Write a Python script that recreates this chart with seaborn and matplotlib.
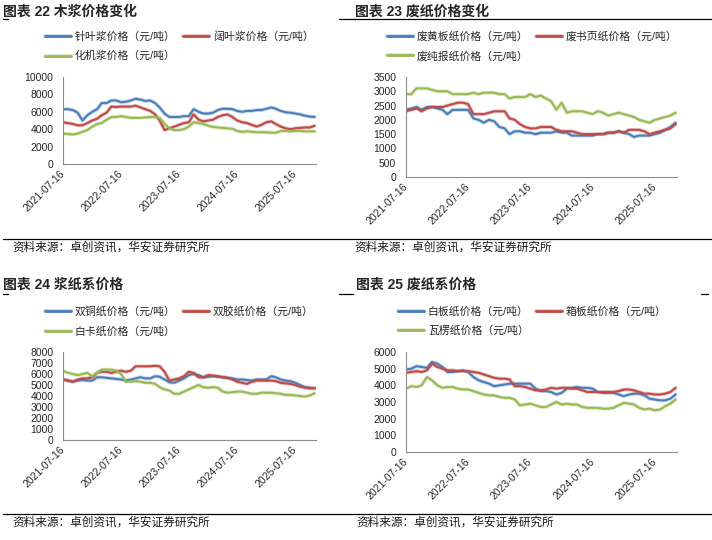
import numpy as np
import pandas as pd
import matplotlib
matplotlib.use("Agg")
import matplotlib.pyplot as plt
import matplotlib.patheffects as pe
import seaborn as sns

# ── data (monthly readings, 2021-07 .. 2025-11) ───────────────────────────────
dates = pd.date_range("2021-07-16", periods=53, freq=pd.DateOffset(months=1))

softwood = [6300, 6300, 6200, 5900, 5000, 5600, 6000, 6300, 7000, 7000, 7300, 7300,
            7100, 7150, 7300, 7500, 7400, 7250, 7300, 7000, 6500, 5800, 5400, 5400,
            5400, 5500, 5500, 6300, 6000, 5800, 5800, 5900, 6200, 6350, 6350, 6300,
            6100, 6000, 6100, 6100, 6200, 6200, 6350, 6500, 6350, 6100, 5950, 5900,
            5800, 5700, 5550, 5450, 5400]
hardwood = [4800, 4700, 4600, 4450, 4450, 4700, 5000, 5200, 5600, 5900, 6600, 6550,
            6600, 6600, 6600, 6700, 6500, 6300, 6100, 5700, 5000, 3900, 4100, 4300,
            4500, 4700, 4800, 5700, 5100, 4900, 5000, 5100, 5400, 5600, 5700, 5400,
            5000, 4800, 4700, 4500, 4300, 4500, 4800, 4900, 4600, 4300, 4100, 4000,
            4100, 4150, 4200, 4200, 4400]
mech_pulp = [3500, 3450, 3400, 3500, 3700, 3900, 4300, 4600, 4700, 5100, 5400, 5400,
             5500, 5400, 5300, 5300, 5300, 5350, 5400, 5400, 5300, 4600, 4100, 3900,
             3900, 4000, 4300, 4800, 4700, 4600, 4400, 4250, 4200, 4150, 4100, 4050,
             3800, 3700, 3750, 3700, 3650, 3650, 3650, 3600, 3600, 3800, 3800, 3750,
             3800, 3800, 3750, 3750, 3750]

occ_yellow = [2350, 2400, 2450, 2350, 2450, 2450, 2400, 2350, 2200, 2350, 2350, 2350,
              2350, 2050, 2000, 1900, 2000, 1950, 1750, 1700, 1500, 1600, 1600, 1550,
              1550, 1500, 1550, 1550, 1550, 1600, 1550, 1550, 1450, 1450, 1450, 1450,
              1450, 1500, 1500, 1550, 1550, 1600, 1550, 1500, 1400, 1450, 1450, 1450,
              1500, 1550, 1650, 1750, 1900]
occ_book = [2300, 2350, 2400, 2300, 2400, 2450, 2450, 2450, 2500, 2550, 2600, 2600,
            2550, 2200, 2200, 2200, 2250, 2300, 2300, 2300, 2050, 2000, 1850, 1750,
            1700, 1700, 1750, 1750, 1750, 1650, 1600, 1600, 1600, 1550, 1500, 1500,
            1500, 1500, 1500, 1550, 1550, 1600, 1550, 1650, 1650, 1650, 1600, 1500,
            1550, 1600, 1650, 1700, 1850]
occ_news = [2900, 2900, 3100, 3100, 3100, 3050, 3000, 3000, 3000, 2900, 2900, 2900,
            2900, 2950, 2900, 2950, 2950, 2950, 2900, 2900, 2750, 2800, 2800, 2800,
            2900, 2800, 2850, 2750, 2650, 2350, 2600, 2250, 2300, 2300, 2300, 2250,
            2200, 2300, 2250, 2150, 2200, 2250, 2200, 2150, 2100, 2000, 1950, 1900,
            2000, 2050, 2100, 2150, 2250]

coated = [5500, 5400, 5300, 5400, 5450, 5400, 5400, 5700, 5700, 5650, 5600, 5550,
          5500, 5400, 5500, 5600, 5700, 5600, 5600, 5800, 5750, 5500, 5250, 5200,
          5400, 5600, 5900, 6000, 5900, 5700, 5750, 5800, 5750, 5700, 5650, 5600,
          5500, 5500, 5450, 5400, 5500, 5500, 5500, 5800, 5700, 5500, 5400, 5350,
          5200, 5000, 4800, 4750, 4700]
offset = [5500, 5400, 5300, 5500, 5600, 5600, 5700, 6100, 6200, 6200, 6100, 6200,
          6300, 6200, 6300, 6700, 6700, 6700, 6700, 6750, 6700, 6200, 5400, 5500,
          5600, 5800, 6200, 6100, 5700, 5700, 5900, 5850, 5800, 5700, 5650, 5500,
          5300, 5200, 5100, 5300, 5400, 5400, 5400, 5400, 5350, 5200, 5150, 5100,
          5000, 4850, 4750, 4700, 4700]
ivory = [6300, 6100, 6000, 5900, 6000, 6100, 5800, 6100, 6400, 6400, 6400, 6300,
         6000, 5300, 5300, 5350, 5300, 5200, 5200, 5100, 4800, 4600, 4500, 4200,
         4200, 4400, 4600, 4800, 5000, 4800, 4750, 4800, 4750, 4400, 4300, 4350,
         4400, 4400, 4300, 4200, 4200, 4300, 4300, 4300, 4250, 4200, 4100, 4100,
         4050, 4000, 3950, 4050, 4250]

whiteboard = [4950, 5000, 5150, 5100, 5050, 5400, 5300, 5100, 4800, 4800, 4850, 4900,
              4800, 4500, 4300, 4200, 4100, 3950, 4000, 4050, 4100, 4100, 4100, 4100,
              4100, 3800, 3650, 3650, 3600, 3450, 3550, 3800, 3850, 3900, 3850, 3850,
              3800, 3600, 3550, 3550, 3550, 3450, 3350, 3450, 3500, 3500, 3400, 3200,
              3150, 3100, 3100, 3200, 3450]
boxboard = [4750, 4800, 4850, 4800, 4900, 5300, 5100, 5000, 4900, 4900, 4850, 4850,
            4850, 4800, 4750, 4650, 4550, 4450, 4400, 4400, 4350, 3950, 3950, 3900,
            3800, 3700, 3700, 3750, 3850, 3800, 3850, 3850, 3800, 3800, 3700, 3600,
            3600, 3600, 3600, 3600, 3600, 3650, 3750, 3750, 3700, 3600, 3500, 3500,
            3450, 3450, 3500, 3600, 3850]
corrugated = [3800, 3950, 3900, 4000, 4500, 4300, 4000, 3850, 3900, 3900, 3800, 3750,
              3750, 3650, 3550, 3450, 3400, 3400, 3300, 3250, 3250, 3150, 2800, 2850,
              2900, 2800, 2700, 2700, 2850, 3000, 2850, 2900, 2850, 2850, 2700, 2650,
              2650, 2650, 2600, 2600, 2650, 2800, 2950, 2900, 2850, 2650, 2550, 2600,
              2500, 2550, 2750, 2900, 3150]

tick_dates = ["2021-07-16", "2022-07-16", "2023-07-16", "2024-07-16", "2025-07-16"]

BLUE, RED, GREEN = "#4a7ebb", "#be4b48", "#98b954"
W, H = 712, 540
CJK = ["Liberation Sans", "Noto Sans CJK SC", "DejaVu Sans"]

panels = [
    dict(title="图表 22 木浆价格变化", series=[softwood, hardwood, mech_pulp],
         names=["针叶浆价格（元/吨）", "阔叶浆价格（元/吨）", "化机浆价格（元/吨）"],
         yticks=np.arange(0, 10001, 2000), box=(63, 77, 316, 164),
         title_xy=(3, 12), leg=(45, 31)),
    dict(title="图表 23 废纸价格变化", series=[occ_yellow, occ_book, occ_news],
         names=["废黄板纸价格（元/吨）", "废书页纸价格（元/吨）", "废纯报纸价格（元/吨）"],
         yticks=np.arange(0, 3501, 500), box=(406, 77, 677, 177),
         title_xy=(355, 12), leg=(387, 31)),
    dict(title="图表 24 浆纸系价格", series=[coated, offset, ivory],
         names=["双铜纸价格（元/吨）", "双胶纸价格（元/吨）", "白卡纸价格（元/吨）"],
         yticks=np.arange(0, 8001, 1000), box=(63, 352, 316, 440),
         title_xy=(3, 285), leg=(45, 306)),
    dict(title="图表 25 废纸系价格", series=[whiteboard, boxboard, corrugated],
         names=["白板纸价格（元/吨）", "箱板纸价格（元/吨）", "瓦楞纸价格（元/吨）"],
         yticks=np.arange(0, 6001, 1000), box=(406, 352, 677, 452),
         title_xy=(356, 285), leg=(398, 306)),
]

sns.set_theme(style="white")
plt.rcParams["font.family"] = CJK
plt.rcParams["axes.unicode_minus"] = False

fig = plt.figure(figsize=(W / 100, H / 100), dpi=100)


def fx(px):
    return px / W


def fy(py):
    return 1 - py / H


for p in panels:
    x0, y0, x1, y1 = p["box"]
    ax = fig.add_axes([fx(x0), fy(y1), fx(x1) - fx(x0), fy(y0) - fy(y1)])

    df = pd.DataFrame({"date": dates})
    for name, vals in zip(p["names"], p["series"]):
        df[name] = vals
    long = df.melt(id_vars="date", var_name="series", value_name="price")
    sns.lineplot(data=long, x="date", y="price", hue="series", hue_order=p["names"],
                 palette=[BLUE, RED, GREEN], linewidth=1.5, legend=False, ax=ax)
    for line, c in zip(ax.get_lines(), [BLUE, RED, GREEN]):
        line.set_path_effects([pe.Stroke(linewidth=2.8, foreground=c, alpha=0.3),
                               pe.Normal()])

    ax.set_xlim(dates[0], dates[-1] + pd.Timedelta(days=8))
    ax.set_ylim(p["yticks"][0], p["yticks"][-1])
    ax.set_yticks(p["yticks"])
    ax.set_xticks(pd.to_datetime(tick_dates))
    ax.set_xticklabels(tick_dates, rotation=45, ha="right", va="center",
                       rotation_mode="anchor", fontsize=7.5)
    ax.set_yticklabels([str(v) for v in p["yticks"]], fontsize=7.5)
    ax.tick_params(length=0, pad=6)
    ax.tick_params(axis="y", pad=7)
    ax.set_xlabel("")
    ax.set_ylabel("")
    for s in ["top", "right"]:
        ax.spines[s].set_visible(False)
    for s in ["left", "bottom"]:
        ax.spines[s].set_color("#8c8c8c")
        ax.spines[s].set_linewidth(0.8)
    ax.set_facecolor("none")

    # legend filled row-wise: (blue, red) / (green)
    lines = ax.get_lines()
    order = [0, 2, 1]
    leg = ax.legend([lines[i] for i in order], [p["names"][i] for i in order],
                    ncol=2, loc="upper left", frameon=False,
                    bbox_to_anchor=(fx(p["leg"][0]), fy(p["leg"][1])),
                    bbox_transform=fig.transFigure, borderpad=0, borderaxespad=0,
                    fontsize=7.8, handlelength=2.4, handletextpad=0.35,
                    columnspacing=0.7, labelspacing=0.85)
    for h in leg.get_lines():
        h.set_linewidth(2.0)

    fig.text(fx(p["title_xy"][0]), fy(p["title_xy"][1]), p["title"], fontsize=10,
             fontweight="bold", ha="left", va="center")

# title underline segments and source rules
rules = [(3, 8, 19), (339, 712, 19), (3, 8, 294), (339, 353, 294), (701, 708, 294),
         (3, 712, 239), (3, 712, 514)]
for a, b, y in rules:
    fig.add_artist(plt.Line2D([fx(a), fx(b)], [fy(y), fy(y)], color="black",
                              linewidth=0.9, transform=fig.transFigure))

source = "资料来源：卓创资讯，华安证券研究所"
for sx, sy in [(12, 248), (354, 248), (12, 523), (356, 523)]:
    fig.text(fx(sx), fy(sy), source, fontsize=8.4, ha="left", va="center",
             color="#1a1a1a")

plt.savefig("out.png", dpi=100)
plt.close()
